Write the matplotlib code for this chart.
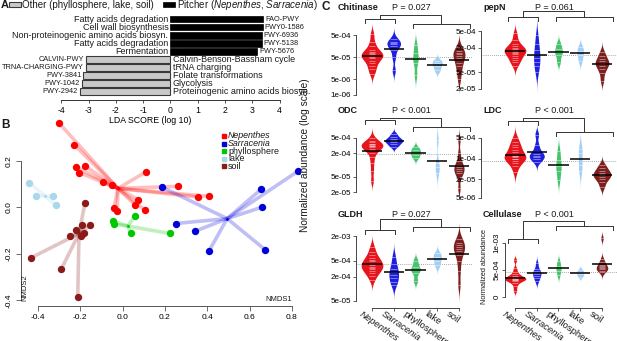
import numpy as np
import matplotlib
matplotlib.use('Agg')
import matplotlib.pyplot as plt
from matplotlib.patches import Rectangle
from matplotlib.lines import Line2D
from matplotlib.transforms import blended_transform_factory, ScaledTranslation

plt.rcParams['font.family'] = ['Liberation Sans', 'DejaVu Sans']
plt.rcParams['mathtext.fontset'] = 'custom'
plt.rcParams['mathtext.rm'] = 'Liberation Sans'
plt.rcParams['mathtext.it'] = 'Liberation Sans:italic'
plt.rcParams['axes.unicode_minus'] = False
plt.rcParams['text.color'] = '#1a1a1a'

# ---------------- panel A : LDA scores
pitcher_ids = ['FAO-PWY', 'PWY0-1586', 'PWY-6936', 'PWY-5138', 'PWY-5676']
pitcher_names = ['Fatty acids degradation', 'Cell wall biosynthesis',
                 'Non-proteinogenic amino acids biosyn.', 'Fatty acids degradation', 'Fermentation']
pitcher_lda = [3.40, 3.38, 3.35, 3.35, 3.18]
other_ids = ['CALVIN-PWY', 'TRNA-CHARGING-PWY', 'PWY-3841', 'PWY-1042', 'PWY-2942']
other_names = ['Calvin-Benson-Bassham cycle', 'tRNA charging', 'Folate transformations',
               'Glycolysis', 'Proteinogenic amino acids biosyn.']
other_lda = [-3.10, -3.10, -3.19, -3.25, -3.32]
lda_ticks = [-4, -3, -2, -1, 0, 1, 2, 3, 4]

# ---------------- panel B : NMDS
nep_x = [-0.30, -0.228, -0.218, -0.18, -0.204, -0.093, -0.052, 0.11, 0.264, 0.357, 0.406, 0.075, 0.06, 0.107, -0.041, -0.025]
nep_y = [0.363, 0.269, 0.173, 0.18, 0.15, 0.108, 0.098, 0.153, 0.091, 0.045, 0.048, 0.033, 0.011, -0.013, -0.003, -0.017]
sar_x = [0.185, 0.83, 0.654, 0.657, 0.251, 0.343, 0.407, 0.675]
sar_y = [0.088, 0.157, 0.078, 0.001, -0.069, -0.102, -0.189, -0.183]
phy_x = [-0.046, -0.042, 0.057, 0.038, 0.222]
phy_y = [-0.058, -0.072, -0.038, -0.112, -0.112]
lake_x = [-0.44, -0.407, -0.33, -0.316]
lake_y = [0.105, 0.048, 0.051, 0.009]
soil_x = [-0.178, -0.192, -0.152, -0.222, -0.184, -0.249, -0.197, -0.431, -0.289, -0.212]
soil_y = [0.018, -0.077, -0.077, -0.098, -0.108, -0.123, -0.123, -0.216, -0.264, -0.386]
centroid_x = [-0.022, 0.494, 0.025, -0.368, -0.206]
centroid_y = [0.082, -0.048, -0.080, 0.051, -0.112]
nmds_xticks = [-0.4, -0.2, 0.0, 0.2, 0.4, 0.6, 0.8]
nmds_yticks = [-0.4, -0.2, 0.0, 0.2]

groups = ['Nepenthes', 'Sarracenia', 'phyllosphere', 'lake', 'soil']

# ---------------- panel C : normalized abundance (log10 for the first five genes)
chitinase = [[-3.25, -3.6, -3.8, -3.95, -4.05, -4.1, -4.15, -4.2, -4.25, -4.3, -4.35, -4.45, -4.55, -4.7, -4.85, -5.05],
             [-3.45, -3.6, -3.65, -3.7, -3.8, -3.95, -4.3, -4.9],
             [-3.75, -4.1, -4.35, -4.55, -5.1],
             [-4.45, -4.55, -4.7, -4.9],
             [-3.85, -4.0, -4.1, -4.15, -4.25, -4.35, -4.55, -4.7, -4.95, -5.3]]
pepn = [[-3.35, -3.5, -3.6, -3.65, -3.7, -3.72, -3.75, -3.77, -3.8, -3.82, -3.85, -3.9, -3.95, -4.0, -4.05, -4.15],
        [-3.4, -3.6, -3.75, -3.85, -3.95, -4.05, -4.15, -4.3],
        [-3.6, -3.72, -3.8, -3.88, -4.05],
        [-3.68, -3.78, -3.88, -4.02],
        [-3.8, -3.9, -3.98, -4.03, -4.07, -4.1, -4.15, -4.22, -4.32, -4.5]]
odc = [[-3.3, -3.38, -3.42, -3.45, -3.47, -3.49, -3.5, -3.52, -3.55, -3.58, -3.62, -3.68, -3.8, -3.95, -4.15, -4.4],
       [-3.2, -3.28, -3.33, -3.36, -3.39, -3.42, -3.47, -3.53],
       [-3.55, -3.62, -3.68, -3.74, -3.82],
       [-3.35, -3.95, -4.05, -4.2],
       [-3.35, -3.7, -3.9, -4.0, -4.05, -4.1, -4.15, -4.2, -4.3, -4.6]]
ldc = [[-3.3, -3.45, -3.55, -3.62, -3.7, -3.78, -3.85, -3.9, -3.93, -3.96, -4.0, -4.03, -4.08, -4.15, -4.25, -4.45],
       [-3.2, -3.55, -3.75, -3.85, -3.9, -3.95, -4.0, -4.1],
       [-3.75, -4.05, -4.25, -4.4, -4.7],
       [-3.68, -3.8, -4.2, -4.4],
       [-4.2, -4.32, -4.4, -4.47, -4.52, -4.56, -4.62, -4.68, -4.78, -4.95]]
gldh = [[-2.95, -3.08, -3.17, -3.23, -3.28, -3.32, -3.36, -3.39, -3.42, -3.45, -3.48, -3.52, -3.56, -3.6, -3.67, -3.78],
        [-3.2, -3.38, -3.5, -3.58, -3.65, -3.72, -3.82, -3.9],
        [-3.3, -3.45, -3.52, -3.6, -3.8],
        [-3.12, -3.2, -3.3, -3.42],
        [-2.75, -2.85, -2.9, -2.95, -3.0, -3.05, -3.15, -3.3, -3.55, -3.9]]
cellulase = [[1.2e-4, 2.0e-4, 2.6e-4, 2.9e-4, 3.1e-4, 3.2e-4, 3.3e-4, 3.4e-4, 3.5e-4, 3.6e-4, 3.7e-4, 3.9e-4, 4.2e-4, 4.6e-4, 5.3e-4, 6.8e-4],
             [2.9e-4, 3.5e-4, 3.9e-4, 4.2e-4, 4.5e-4, 4.8e-4, 5.2e-4, 6.2e-4],
             [4.0e-4, 4.8e-4, 5.3e-4, 5.8e-4, 6.6e-4],
             [3.8e-4, 4.2e-4, 4.6e-4, 5.0e-4],
             [4.6e-4, 4.9e-4, 5.1e-4, 5.3e-4, 5.5e-4, 5.7e-4, 6.0e-4, 6.4e-4, 7.0e-4, 10.8e-4]]

c_titles = ['Chitinase', 'pepN', 'ODC', 'LDC', 'GLDH', 'Cellulase']
c_pvals = ['P = 0.027', 'P = 0.061', 'P < 0.001', 'P < 0.001', 'P = 0.027', 'P < 0.001']
c_ticklabels = [['1e-06', '5e-06', '5e-05', '5e-04'],
                ['2e-05', '5e-05', '2e-04', '5e-04'],
                ['2e-05', '5e-05', '2e-04', '5e-04'],
                ['5e-06', '2e-05', '1e-04', '5e-04'],
                ['5e-05', '2e-04', '5e-04', '2e-03'],
                ['0', '5e-04', '1e-03']]
c_values = [chitinase, pepn, odc, ldc, gldh, cellulase]
c_logged = [True, True, True, True, True, False]

# ---------------- layout (pixels of a 617 x 341 canvas)
W, H = 617, 341
b_colors = ['#ff0000', '#0000dd', '#00c800', '#a8d8ea', '#8b1a1a']
c_colors = ['#e8141c', '#1f1fe0', '#45c46b', '#a3cff5', '#7e1f1f']
c_boxes = [(356, 20, 472, 100), (481, 20, 617, 100), (356, 122, 472, 205),
           (481, 122, 617, 205), (356, 224, 472, 308), (505, 224, 617, 308)]
c_xlims = [(-0.736, 4.6), (-1.563, 4.69), (-0.736, 4.6), (-1.563, 4.69), (-0.736, 4.6), (-0.46, 4.69)]
c_ylims = [(-6.242, -2.606), (-4.975, -3.023), (-5.025, -2.896), (-5.55, -2.783),
           (-4.478, -2.388), (-1.96e-4, 1.342e-3)]
c_title_pos = [(338, 7.5), (483, 7.5), (338, 111), (483, 111), (338, 214.5), (483, 214.5)]
c_tree = [(15, 19, 24), (11, 17, 17), (118, 120, 127), (118, 121, 132), (219, 230, 227), (221, 239, 226)]


def fx(px):
    return px / W


def fy(py):
    return 1 - py / H


def box(l, t, r, b):
    return [fx(l), fy(b), (r - l) / W, (b - t) / H]


def nrd0(v):
    sd = v.std(ddof=1)
    iqr = np.subtract(*np.percentile(v, [75, 25]))
    lo = min(sd, iqr / 1.34) if iqr > 0 else sd
    return 0.9 * lo * len(v) ** -0.2


def kde(v, grid, bw):
    z = (grid[:, None] - v[None, :]) / bw
    return np.exp(-0.5 * z ** 2).sum(axis=1) / (bw * np.sqrt(2 * np.pi))


fig = plt.figure(figsize=(W / 100, H / 100), dpi=100)

# ======================= A
axA = fig.add_axes(box(0, 12, 300, 100))
axA.patch.set_alpha(0)
rows_p = np.arange(len(pitcher_lda))
rows_o = np.arange(len(other_lda)) + len(pitcher_lda)
axA.barh(rows_p, pitcher_lda, height=0.82, color='black', edgecolor='black', lw=0.5)
axA.barh(rows_o, other_lda, height=0.82, color='#c9c9c9', edgecolor='#3a3a3a', lw=0.8)
for r, v, name, pid in zip(rows_p, pitcher_lda, pitcher_names, pitcher_ids):
    axA.text(-0.08, r, name, ha='right', va='center', fontsize=6.5)
    axA.text(v + 0.06, r, pid, ha='left', va='center', fontsize=5.3)
for r, v, name, pid in zip(rows_o, other_lda, other_names, other_ids):
    axA.text(v - 0.08, r, pid, ha='right', va='center', fontsize=5.3)
    axA.text(0.08, r, name, ha='left', va='center', fontsize=6.5)
axA.set_xlim(-6.245, 4.744)
axA.set_ylim(10.02, -0.87)
for s in ['top', 'right', 'left']:
    axA.spines[s].set_visible(False)
axA.spines['bottom'].set_bounds(-4, 4)
axA.spines['bottom'].set_color('#333333')
axA.spines['bottom'].set_linewidth(0.7)
axA.set_yticks([])
axA.set_xticks(lda_ticks)
axA.tick_params(axis='x', length=2.5, width=0.6, labelsize=6.3, pad=1.5, color='#333333')
axA.set_xlabel('LDA SCORE (log 10)', fontsize=6.3, labelpad=1)

fig.text(fx(0.5), fy(5.5), 'A', fontsize=8, fontweight='bold', va='center')
fig.add_artist(Rectangle((fx(8.5), fy(7)), 12.5 / W, 5 / H, transform=fig.transFigure,
                         fc='#c9c9c9', ec='#3a3a3a', lw=0.8))
fig.text(fx(22), fy(5), 'Other (phyllosphere, lake, soil)', fontsize=7, va='center')
fig.add_artist(Rectangle((fx(163), fy(7)), 12 / W, 5 / H, transform=fig.transFigure,
                         fc='black', ec='black', lw=0.5))
fig.text(fx(177), fy(5), 'Pitcher ($\\it{Nepenthes}$, $\\it{Sarracenia}$)', fontsize=7, va='center')

# ======================= B
axB = fig.add_axes(box(21, 118, 300, 306))
axB.patch.set_alpha(0)
b_x = [nep_x, sar_x, phy_x, lake_x, soil_x]
b_y = [nep_y, sar_y, phy_y, lake_y, soil_y]
for gx, gy, cx, cy, col in zip(b_x, b_y, centroid_x, centroid_y, b_colors):
    for x, y in zip(gx, gy):
        axB.plot([cx, x], [cy, y], color=col, alpha=0.25, lw=2.6, solid_capstyle='butt', zorder=1)
    axB.scatter(gx, gy, s=28, color=col, lw=0, zorder=3)
    axB.scatter([cx], [cy], s=4, color=col, lw=0, zorder=3)
axB.set_xlim(-0.480, 0.838)
axB.set_ylim(-0.424, 0.385)
for s in ['top', 'right']:
    axB.spines[s].set_visible(False)
axB.spines['left'].set_bounds(-0.4, 0.2)
axB.spines['bottom'].set_bounds(-0.4, 0.8)
for s in ['left', 'bottom']:
    axB.spines[s].set_color('#555555')
    axB.spines[s].set_linewidth(0.7)
axB.set_xticks(nmds_xticks)
axB.set_xticklabels(['%.1f' % t for t in nmds_xticks])
axB.set_yticks(nmds_yticks)
axB.set_yticklabels(['%.1f' % t for t in nmds_yticks], rotation=90, va='center')
axB.tick_params(length=3.5, width=0.6, labelsize=6, pad=2.5, color='#555555')
axB.text(0.8, -0.398, 'NMDS1', ha='right', va='center', fontsize=5.5)
axB.text(-0.461, -0.346, 'NMDS2', ha='center', va='center', rotation=90, fontsize=5.5)
fig.text(fx(1.5), fy(125), 'B', fontsize=8.5, fontweight='bold', va='center')

for j, (lab, col) in enumerate(zip(groups, b_colors)):
    yy = 136 + 7.6 * j
    fig.add_artist(Line2D([fx(223.5)], [fy(yy)], marker='s', ms=2.8, color=col, ls='',
                          transform=fig.transFigure))
    fig.text(fx(228), fy(yy), lab, fontsize=6.4, va='center',
             fontstyle='italic' if j < 2 else 'normal')

# ======================= C
fig.text(fx(321), fy(7.5), 'C', fontsize=8.5, fontweight='bold', va='center')
fig.text(fx(305), fy(155), 'Normalized abundance (log scale)', rotation=90,
         ha='center', va='center', fontsize=7.3)
fig.text(fx(484), fy(267), 'Normalized abundance', rotation=90,
         ha='center', va='center', fontsize=5.3)

L0, L1, R0, R1 = -0.3, 1.08, 1.88, 4.5
lm, rm = (L0 + L1) / 2, (R0 + R1) / 2
for k in range(6):
    ax = fig.add_axes(box(*c_boxes[k]))
    ax.patch.set_alpha(0)
    log = c_logged[k]
    curves = []
    for vals in c_values[k]:
        v = np.asarray(vals, dtype=float)
        bw = nrd0(v)
        grid = np.linspace(v.min() - 3 * bw, v.max() + 3 * bw, 300)
        curves.append((v, grid, kde(v, grid, bw)))
    peak = max(c[2].max() for c in curves)
    allv = np.concatenate([c[0] for c in curves])
    ax.axhline(allv.mean(), color='#8c8c8c', ls=(0, (1, 1.5)), lw=0.6, zorder=0)
    for i, (v, grid, d) in enumerate(curves):
        hw = 0.5 * d / peak
        ax.fill_betweenx(grid, i - hw, i + hw, color=c_colors[i], lw=0, zorder=1)
        ax.hlines(v, i - 0.15, i + 0.15, colors='white', lw=0.45, alpha=0.65, zorder=2)
        ax.hlines(v.mean(), i - 0.47, i + 0.47, colors='black', lw=1.1, zorder=4)
    ax.set_xlim(*c_xlims[k])
    ax.set_ylim(*c_ylims[k])

    labs = c_ticklabels[k]
    tpos = [np.log10(float(s)) for s in labs] if log else [float(s) for s in labs]
    ax.set_yticks(tpos)
    if log:
        ax.set_yticklabels(labs)
    else:
        ax.set_yticklabels(labs, rotation=90, va='center')
    ax.tick_params(axis='y', length=2.2, width=0.6, labelsize=5.8, pad=1.2, color='#444444')
    for s in ['top', 'right']:
        ax.spines[s].set_visible(False)
    ax.spines['left'].set_bounds(tpos[0], tpos[-1])
    ax.spines['left'].set_color('#444444')
    ax.spines['left'].set_linewidth(0.7)
    if k >= 4:
        ax.spines['bottom'].set_bounds(0, 4)
        ax.spines['bottom'].set_color('#444444')
        ax.spines['bottom'].set_linewidth(0.7)
        ax.set_xticks(range(5))
        ax.set_xticklabels([])
        ax.tick_params(axis='x', length=2.2, width=0.6, color='#444444')
        off = ax.get_xaxis_transform() + ScaledTranslation(-0.09, -0.015, fig.dpi_scale_trans)
        for i, g in enumerate(groups):
            ax.text(i, 0, g, transform=off, rotation=-35, rotation_mode='anchor',
                    ha='left', va='top', fontsize=6.8,
                    fontstyle='italic' if i < 2 else 'normal')
    else:
        ax.spines['bottom'].set_visible(False)
        ax.set_xticks([])

    # dendrogram brackets
    tr = blended_transform_factory(ax.transData, fig.transFigure)
    top, left, right = c_tree[k]
    kw = dict(transform=tr, clip_on=False, color='#333333', lw=0.7)
    ax.plot([L0, L0, L1, L1], [fy(left + 4), fy(left), fy(left), fy(left + 4)], **kw)
    ax.plot([R0, R0, R1, R1], [fy(right + 4), fy(right), fy(right), fy(right + 4)], **kw)
    ax.plot([lm, lm, rm, rm], [fy(left), fy(top), fy(top), fy(right)], **kw)

    tx, ty = c_title_pos[k]
    fig.text(fx(tx), fy(ty), c_titles[k], fontsize=6.5, fontweight='bold', va='center')
    ax.text((lm + rm) / 2, fy(ty), c_pvals[k], transform=tr, ha='center', va='center', fontsize=6.5)

fig.savefig('out.png', dpi=100)
